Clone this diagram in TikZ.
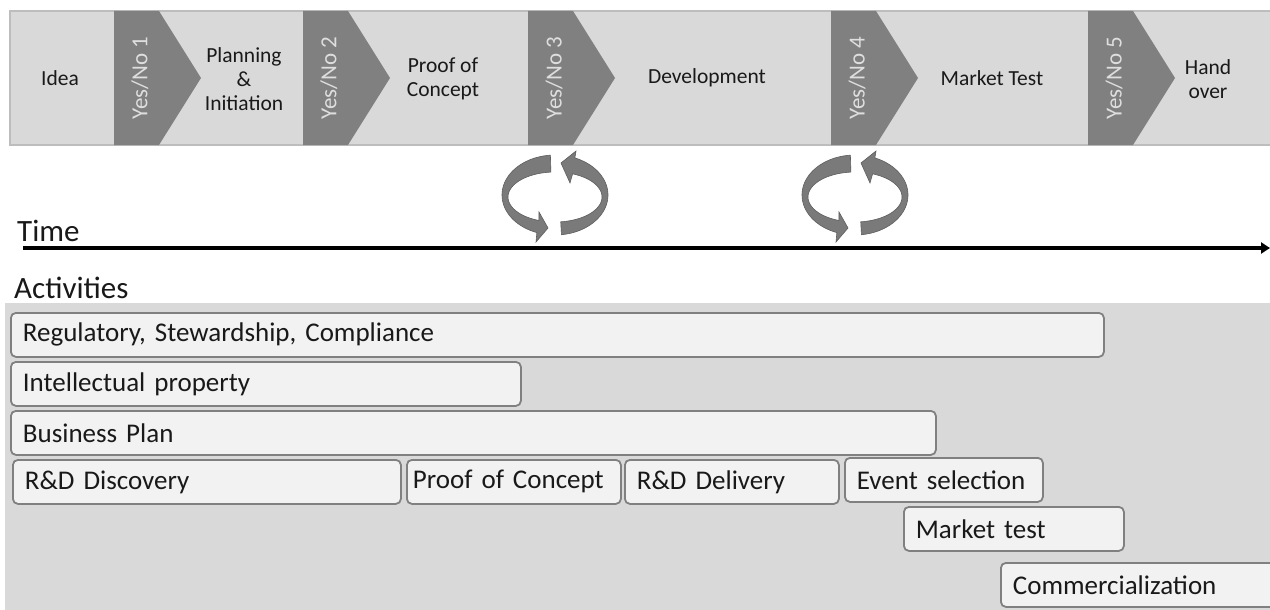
\documentclass[tikz,border=0pt]{standalone}
\usepackage{fontspec}
\setmainfont{Carlito}
\usetikzlibrary{arrows.meta}
\definecolor{barfill}{HTML}{D9D9D9}
\definecolor{barline}{HTML}{BDBDBD}
\definecolor{chev}{HTML}{808080}
\definecolor{yesno}{HTML}{DEDEDE}
\definecolor{area}{HTML}{D9D9D9}
\definecolor{boxfill}{HTML}{F2F2F2}
\definecolor{boxline}{HTML}{808080}
\definecolor{cycfill}{HTML}{7A7A7A}
\definecolor{cycline}{HTML}{5E5E5E}
\newcommand\myactfont{\fontsize{27}{30}\selectfont}
\tikzset{
  phase/.style={align=center, text=black!90, font=\fontsize{21.5}{24}\selectfont, inner sep=0pt},
  yesnolbl/.style={rotate=90, text=yesno, font=\fontsize{23}{26}\selectfont, inner sep=0pt},
  chevshape/.style={fill=chev},
  heading/.style={anchor=west, font=\fontsize{31}{36}\selectfont, inner sep=0pt, text=black!90},
  axis/.style={line width=3.5pt, -{Triangle[length=9pt,width=11pt]}},
  act/.style={anchor=north west, rounded corners=5pt, fill=boxfill, draw=boxline,
    line width=1.8pt, inner xsep=12pt, inner ysep=0pt, minimum height=44pt,
    align=left, font=\myactfont, text=black!90},
  cyc/.pic={
    \fill[cycfill, draw=cycline, line width=0.6pt]
      plot[domain=95:250, samples=40] ({53*cos(\x)}, {-40*sin(\x)})
      -- (-19,47) -- (-7,33) -- (-16,17)
      -- plot[domain=250:95, samples=40] ({47*cos(\x)}, {2-25*sin(\x)}) -- cycle;
    \fill[cycfill, draw=cycline, line width=0.6pt]
      plot[domain=-83:68, samples=40] ({53*cos(\x)}, {-40*sin(\x)})
      -- (21,-44) -- (6,-32) -- (15,-12)
      -- plot[domain=68:-83, samples=40] ({47*cos(\x)}, {2-25*sin(\x)}) -- cycle;
  }
}
\begin{document}
\begin{tikzpicture}[x=1pt,y=-1pt]
\fill[white] (0,0) rectangle (1270,610);
\useasboundingbox (0,0) rectangle (1270,610);

% top phase bar
\fill[barfill] (10,11) rectangle (1275,145);
\draw[barline, line width=1.2pt] (1275,11) -- (10,11) -- (10,145) -- (1275,145);
\foreach \xx/\n in {114/1,303/2,528/3,831/4,1088/5}{
  \fill[chevshape] (\xx,11) -- ++(45,0) -- ++(42,67) -- ++(-42,67) -- ++(-45,0) -- cycle;
  \node[yesnolbl] (yn\n) at (\xx+26,78) {Yes/No \n};
}
\node[phase] (idea) at (60,78) {Idea};
\node[phase] (plan) at (244,79) {Planning\\\&\\Initiation};
\node[phase] (poc)  at (443,79) {Proof of\\Concept};
\node[phase] (dev)  at (707,78) {Development};
\node[phase] (mt)   at (992,78) {Market Test};
\node[phase] (ho)   at (1208,79) {Hand\\over};

% iteration cycles
\pic at (555,195) {cyc};
\pic at (855,195) {cyc};

% time axis
\node[heading] (time) at (17,231) {Time};
\coordinate (t0) at (23,248);
\coordinate (t1) at (1270,248);
\draw[axis] (t0) -- (t1);

% activities
\node[heading] (actl) at (14,288) {Activities};
\fill[area] (5,303) rectangle (1275,615);

\node[act, text width=1069pt] (reg) at (10,312) {Regulatory, Stewardship, Compliance};
\node[act, text width=486pt]  (ip)  at (10,361) {Intellectual property};
\node[act, text width=901pt]  (bp)  at (10,410) {Business Plan};
\node[act, text width=364pt]  (rdd) at (12,459) {R\&D Discovery};
\node[act, text width=202pt, inner xsep=6pt]  (pc)  at (406,459) {Proof of Concept};
\node[act, text width=190pt]  (rdl) at (624,459) {R\&D Delivery};
\node[act, text width=174pt]  (es)  at (844,457) {Event selection};
\node[act, text width=196pt]  (mk)  at (903,506) {Market test};
\node[act, text width=270pt]  (com) at (1000,562) {Commercialization};
\end{tikzpicture}
\end{document}
